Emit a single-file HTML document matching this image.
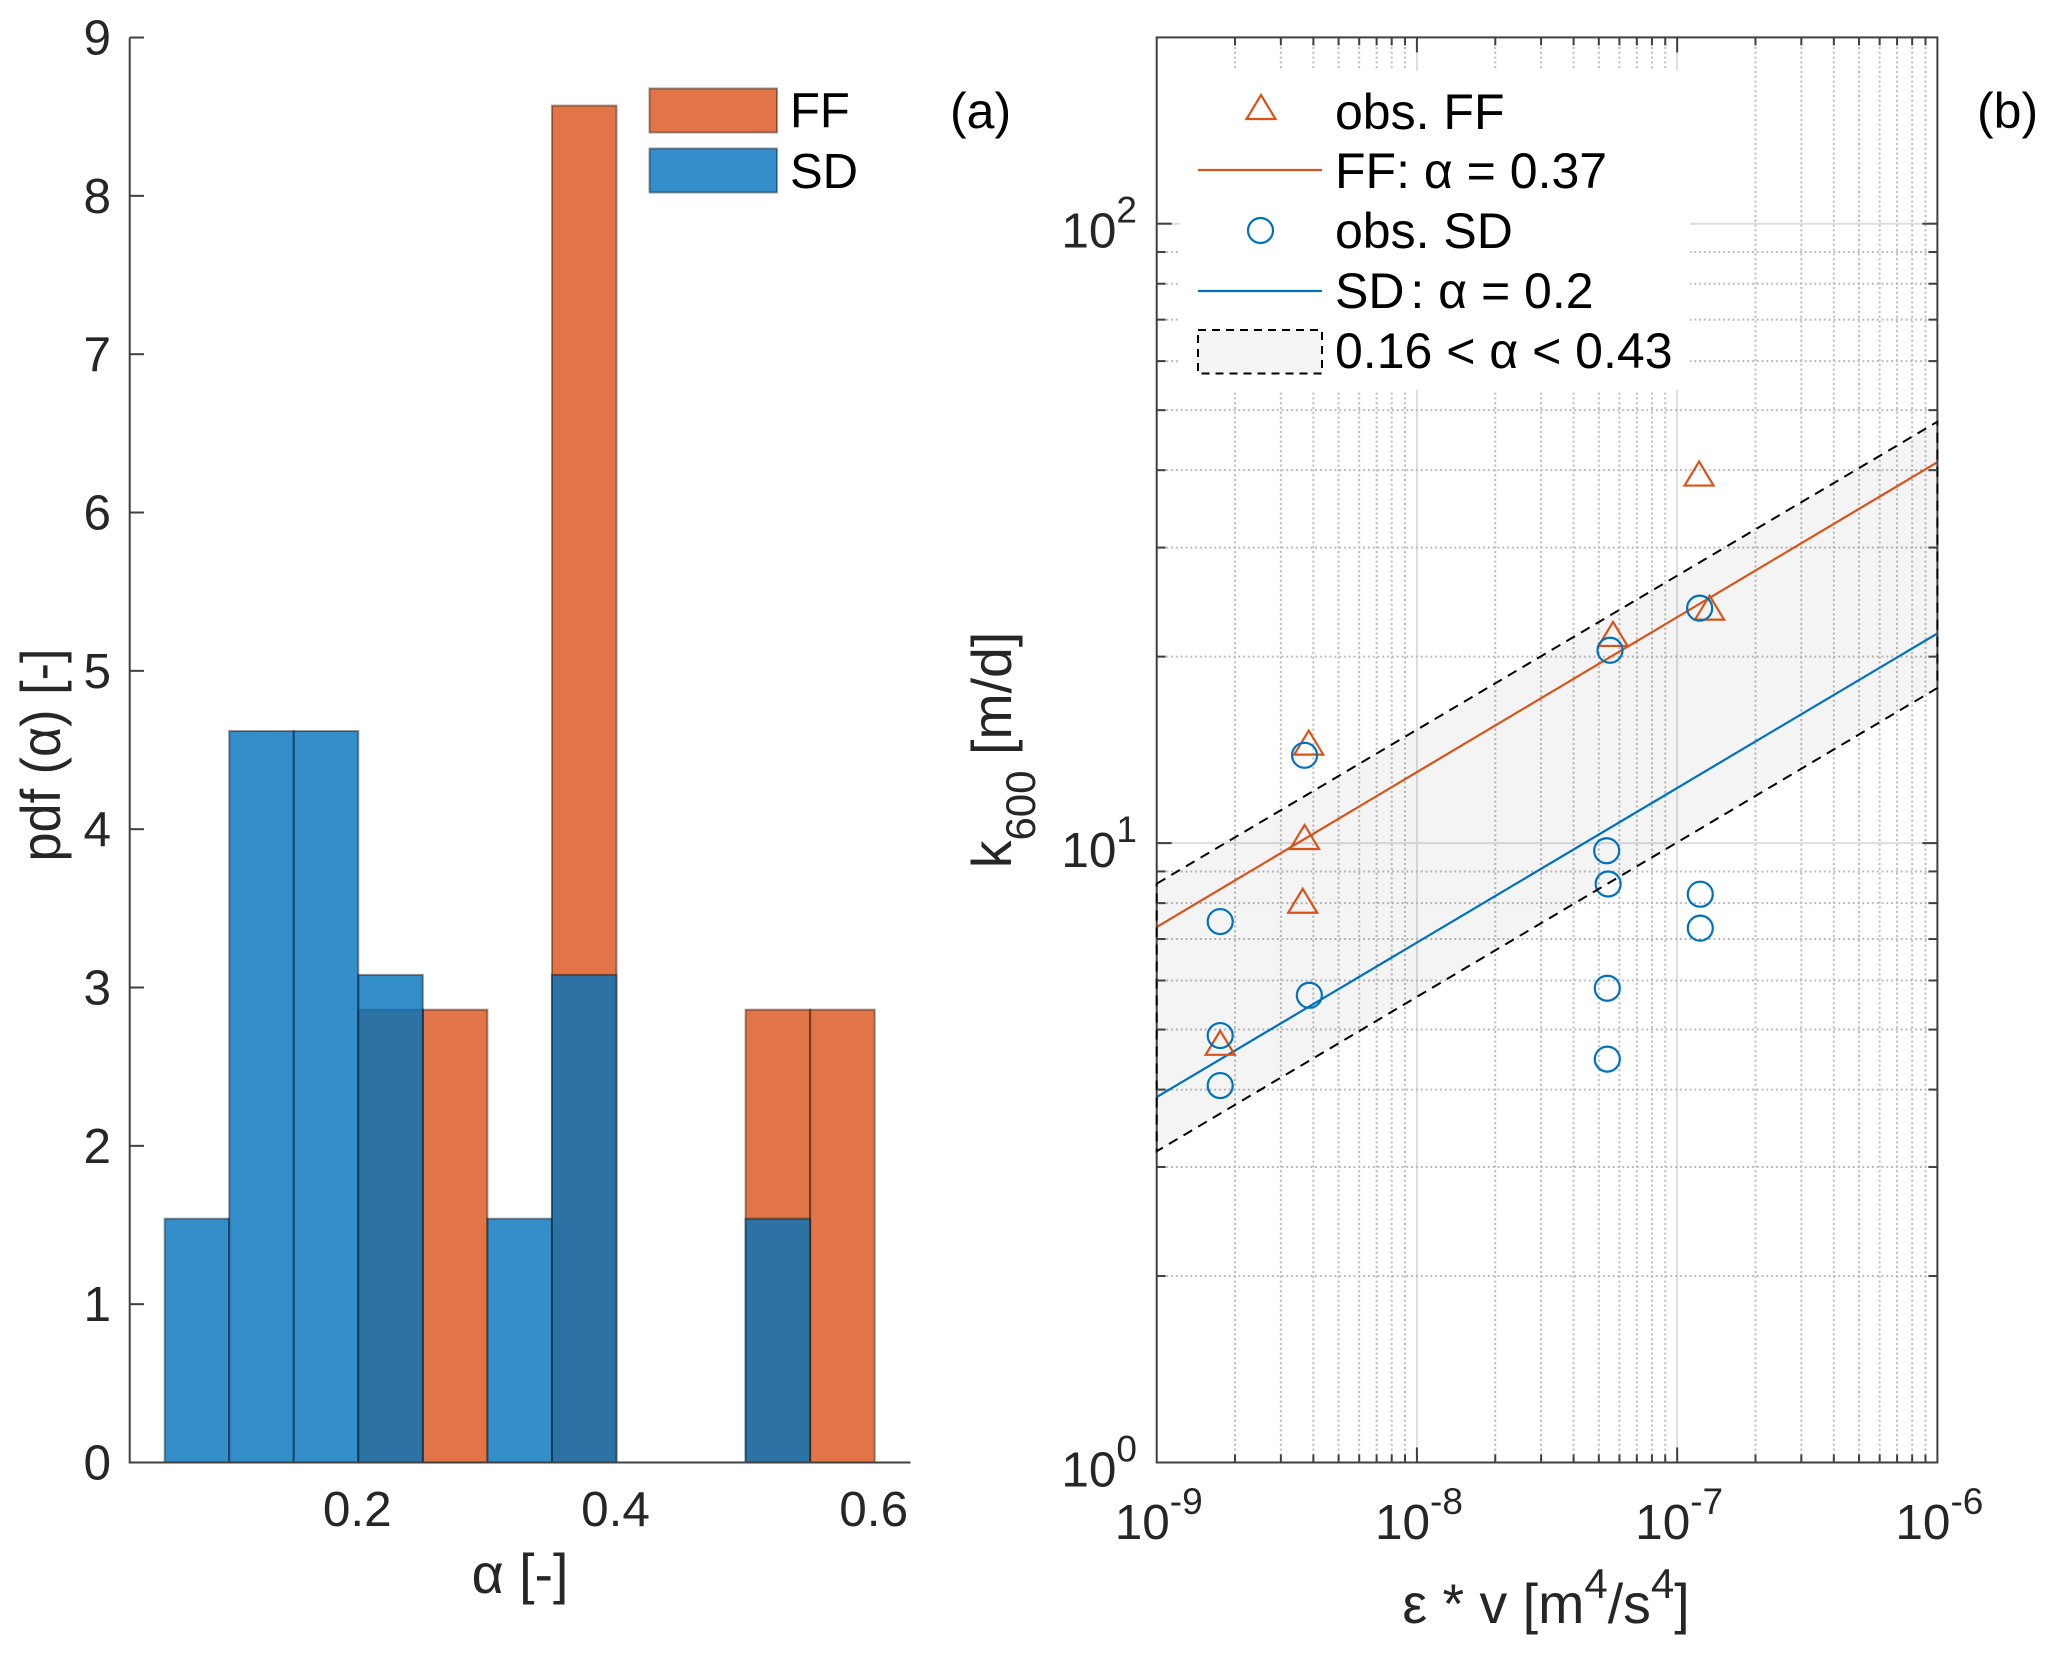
<!DOCTYPE html>
<html>
<head>
<meta charset="utf-8">
<title>Alpha histogram and k600 scaling</title>
<style>
html,body{margin:0;padding:0;background:#fff;}
svg{display:block;}
text{font-family:"Liberation Sans",sans-serif;fill:#262626;}
.tick{font-size:49.5px;}
.lab{font-size:55.5px;}
.leg{font-size:50px;fill:#000;}
</style>
</head>
<body>
<svg id="chart" xmlns="http://www.w3.org/2000/svg" width="2054" height="1654" viewBox="0 0 2054 1654">
  <rect x="0" y="0" width="2054" height="1654" fill="#ffffff"/>

  <g id="panelA"></g>
  <g id="panelB"></g>

  <!-- panel a legend and labels -->
  <g>
    <rect x="649.5" y="88.5" width="127.5" height="44" fill="#E17547" stroke="#000" stroke-opacity="0.38" stroke-width="2"/>
    <text class="leg" style="font-size:49px" x="790" y="127">FF</text>
    <rect x="649.5" y="148.5" width="127.5" height="44" fill="#338ECB" stroke="#000" stroke-opacity="0.38" stroke-width="2"/>
    <text class="leg" style="font-size:49px" x="790" y="188">SD</text>
  </g>
  <text class="leg" x="950" y="128">(a)</text>
  <text class="leg" x="1977" y="128">(b)</text>
  <text class="lab" x="520" y="1593" text-anchor="middle">α [-]</text>
  <text class="lab" text-anchor="middle" textLength="213" lengthAdjust="spacingAndGlyphs" transform="translate(60,755) rotate(-90)">pdf (α) [-]</text>

  <!-- panel b labels -->
  <text class="lab" x="1546" y="1623" text-anchor="middle">ε * v [m<tspan font-size="42" dy="-25">4</tspan><tspan dy="25">/s</tspan><tspan font-size="42" dy="-25">4</tspan><tspan dy="25">]</tspan></text>
  <text class="lab" text-anchor="middle" transform="translate(1011,750) rotate(-90)">k<tspan font-size="42" dy="24">600</tspan><tspan dy="-24"> [m/d]</tspan></text>

  <script>
  // ---- Panel (a): histogram data ----
  const binEdges = [0.05, 0.10, 0.15, 0.20, 0.25, 0.30, 0.35, 0.40, 0.45, 0.50, 0.55, 0.60];
  const ffPdf = [0, 0, 0, 2.86, 2.86, 0, 8.57, 0, 0, 2.86, 2.86];
  const sdPdf = [1.54, 4.62, 4.62, 3.08, 0, 1.54, 3.08, 0, 0, 1.54, 0];
  const histYTicks = [0, 1, 2, 3, 4, 5, 6, 7, 8, 9];
  const histXTicks = [0.2, 0.4, 0.6];
  const histXTickLabels = ['0.2', '0.4', '0.6'];

  // ---- Panel (b): scatter and fit data ----
  const ffObsX = [1.214e-7, 1.332e-7, 5.67e-8, 3.84e-9, 3.70e-9, 3.64e-9, 1.754e-9];
  const ffObsK = [39.5, 24.0, 21.76, 14.53, 10.23, 8.07, 4.76];
  const sdObsX = [3.70e-9, 5.52e-8, 1.22e-7, 1.754e-9, 1.754e-9, 1.754e-9, 3.86e-9, 5.36e-8, 5.43e-8, 5.39e-8, 5.39e-8, 1.227e-7, 1.227e-7];
  const sdObsK = [13.86, 20.48, 23.95, 7.47, 4.89, 4.06, 5.68, 9.72, 8.59, 5.83, 4.48, 8.27, 7.29];
  const fitX = [1e-9, 1e-6];
  const ffFitK = [7.32, 41.2];
  const sdFitK = [3.89, 21.8];
  const bandUpperK = [8.6, 47.9];
  const bandLowerK = [3.18, 17.8];
  const xDecades = [-9, -8, -7, -6];
  const yDecades = [0, 1, 2];
  const minorMultipliers = [2, 3, 4, 5, 6, 7, 8, 9];

  // ---- Axis functions ----
  const xA = a => 358.3 + (a - 0.2) * 1291;
  const yA = v => 1462.5 - v * 158.33;
  const xB = e => 1156.7 + (Math.log10(e) + 9) * 260.23;
  const yB = k => 1462.5 - Math.log10(k) * 619.4;

  const NS = 'http://www.w3.org/2000/svg';
  function mk(parent, tag, attrs, txt) {
    const n = document.createElementNS(NS, tag);
    for (const k in attrs) n.setAttribute(k, attrs[k]);
    if (txt !== undefined) n.textContent = txt;
    parent.appendChild(n);
    return n;
  }
  const A = document.getElementById('panelA');
  const B = document.getElementById('panelB');
  let el;

  // ---- Panel (a) drawing ----
  function drawBars(values, fill, name) {
    values.forEach((v, i) => {
      if (v <= 0) return;
      const x0 = xA(binEdges[i]), x1 = xA(binEdges[i + 1]);
      el = mk(A, 'rect', {x: x0, y: yA(v), width: x1 - x0, height: yA(0) - yA(v), fill: fill, 'fill-opacity': 0.8, stroke: '#000', 'stroke-opacity': 0.38, 'stroke-width': 2});
      
      
    });
  }
  drawBars(ffPdf, 'rgb(217,83,25)', 'bar-ff');
  drawBars(sdPdf, 'rgb(0,114,189)', 'bar-sd');

  el = mk(A, 'line', {x1: 129.7, y1: yA(9), x2: 129.7, y2: yA(0) + 1, stroke: '#404040', 'stroke-width': 2});
  
  
  el = mk(A, 'line', {x1: 129, y1: yA(0), x2: 910.5, y2: yA(0), stroke: '#404040', 'stroke-width': 2});
  
  

  histYTicks.forEach(v => {
    el = mk(A, 'line', {x1: 129.7, y1: yA(v), x2: 144, y2: yA(v), stroke: '#404040', 'stroke-width': 2});
    
    
    el = mk(A, 'text', {x: 111, y: yA(v) + 17, 'text-anchor': 'end', class: 'tick'}, String(v));
    
    
  });
  histXTicks.forEach((v, i) => {
    el = mk(A, 'text', {x: xA(v) - 1, y: 1526, 'text-anchor': 'middle', class: 'tick'}, histXTickLabels[i]);
    
    
  });

  // ---- Panel (b) drawing ----
  const bL = xB(1e-9), bR = xB(1e-6), bB = yB(1), bT = 37.4;

  // grid
  xDecades.forEach(d => {
    const x = xB(Math.pow(10, d));
    if (d > -9 && d < -6) {
      el = mk(B, 'line', {x1: x, y1: bT, x2: x, y2: bB, stroke: '#dedede', 'stroke-width': 2});
      
      
    }
    if (d < -6) minorMultipliers.forEach(m => {
      const xm = xB(m * Math.pow(10, d));
      el = mk(B, 'line', {x1: xm, y1: bT, x2: xm, y2: bB, stroke: '#bcbcbc', 'stroke-width': 2, 'stroke-dasharray': '2 2.8'});
      
      
    });
  });
  yDecades.forEach(d => {
    const y = yB(Math.pow(10, d));
    if (d > 0) {
      el = mk(B, 'line', {x1: bL, y1: y, x2: bR, y2: y, stroke: '#dedede', 'stroke-width': 2});
      
      
    }
    minorMultipliers.forEach(m => {
      const v = m * Math.pow(10, d);
      if (v > 200) return;
      const ym = yB(v);
      if (ym <= bT + 1) return;
      el = mk(B, 'line', {x1: bL, y1: ym, x2: bR, y2: ym, stroke: '#bcbcbc', 'stroke-width': 2, 'stroke-dasharray': '2 2.8'});
      
      
    });
  });

  // uncertainty band
  const bandPts = [
    [xB(fitX[0]), yB(bandUpperK[0])],
    [xB(fitX[1]), yB(bandUpperK[1])],
    [xB(fitX[1]), yB(bandLowerK[1])],
    [xB(fitX[0]), yB(bandLowerK[0])]
  ].map(p => p.join(',')).join(' ');
  el = mk(B, 'polygon', {points: bandPts, fill: '#000', 'fill-opacity': 0.042, stroke: 'none'});
  
  

  // fit lines
  el = mk(B, 'line', {x1: xB(fitX[0]), y1: yB(ffFitK[0]), x2: xB(fitX[1]), y2: yB(ffFitK[1]), stroke: 'rgb(217,83,25)', 'stroke-width': 2.2});
  
  
  el = mk(B, 'line', {x1: xB(fitX[0]), y1: yB(sdFitK[0]), x2: xB(fitX[1]), y2: yB(sdFitK[1]), stroke: 'rgb(0,114,189)', 'stroke-width': 2.2});
  
  

  // markers
  function triPts(cx, cy) {
    return [[cx, cy - 12], [cx + 14.5, cy + 12], [cx - 14.5, cy + 12]].map(p => p.join(',')).join(' ');
  }
  ffObsX.forEach((e, i) => {
    el = mk(B, 'polygon', {points: triPts(xB(e), yB(ffObsK[i])), fill: 'none', stroke: 'rgb(217,83,25)', 'stroke-width': 2.2});
    
    
  });
  sdObsX.forEach((e, i) => {
    el = mk(B, 'circle', {cx: xB(e), cy: yB(sdObsK[i]), r: 12.5, fill: 'none', stroke: 'rgb(0,114,189)', 'stroke-width': 2.2});
    
    
  });

  // axes box
  el = mk(B, 'rect', {x: bL, y: bT, width: bR - bL, height: bB - bT, fill: 'none', stroke: '#404040', 'stroke-width': 2});
  
  

  // band outline sits over the axes box, as in the source figure
  el = mk(B, 'polygon', {points: bandPts, fill: 'none', stroke: '#000', 'stroke-width': 2, 'stroke-dasharray': '10 7'});
  
  

  // ticks
  function xTick(x, len) {
    [[bB, bB - len], [bT, bT + len]].forEach(p => {
      el = mk(B, 'line', {x1: x, y1: p[0], x2: x, y2: p[1], stroke: '#404040', 'stroke-width': 2});
      
      
    });
  }
  function yTick(y, len) {
    [[bL, bL + len], [bR, bR - len]].forEach(p => {
      el = mk(B, 'line', {x1: p[0], y1: y, x2: p[1], y2: y, stroke: '#404040', 'stroke-width': 2});
      
      
    });
  }
  xDecades.forEach(d => {
    const v = Math.pow(10, d);
    if (d > -9 && d < -6) xTick(xB(v), 15);
    if (d < -6) minorMultipliers.forEach(m => xTick(xB(m * v), 8));
    el = mk(B, 'text', {x: xB(v) + 2, y: 1539, 'text-anchor': 'middle', class: 'tick'});
    
    
    mk(el, 'tspan', {}, '10');
    mk(el, 'tspan', {'font-size': 37, dy: -25}, String(d));
  });
  yDecades.forEach(d => {
    const v = Math.pow(10, d);
    if (d > 0) yTick(yB(v), 15);
    minorMultipliers.forEach(m => {
      const ym = yB(m * v);
      if (ym > bT + 1) yTick(ym, 9);
    });
    el = mk(B, 'text', {x: 1137, y: yB(v) + 24, 'text-anchor': 'end', class: 'tick'});
    
    
    mk(el, 'tspan', {}, '10');
    mk(el, 'tspan', {'font-size': 37, dy: -25}, String(d));
  });
  </script>

  <!-- panel b legend -->
  <g>
    <rect x="1180" y="71" width="510" height="319" fill="#ffffff"/>
    <polygon points="1261,95 1275.5,119 1246.5,119" fill="none" stroke="rgb(217,83,25)" stroke-width="2.2"/>
    <text class="leg" x="1335" y="129">obs. FF</text>
    <line x1="1198" y1="170" x2="1322" y2="170" stroke="rgb(217,83,25)" stroke-width="2.2"/>
    <text class="leg" x="1335" y="188">FF: α = 0.37</text>
    <circle cx="1260.5" cy="230.5" r="12.5" fill="none" stroke="rgb(0,114,189)" stroke-width="2.2"/>
    <text class="leg" x="1335" y="248">obs. SD</text>
    <line x1="1198" y1="291" x2="1322" y2="291" stroke="rgb(0,114,189)" stroke-width="2.2"/>
    <text class="leg" x="1335" y="308">SD<tspan dx="-8"> : α = 0.2</tspan></text>
    <rect x="1198" y="330" width="124" height="43.5" fill="#f4f4f4" stroke="#000" stroke-width="2" stroke-dasharray="8 6"/>
    <text class="leg" x="1335" y="368">0.16 &lt; α &lt; 0.43</text>
  </g>
</svg>
</body>
</html>
